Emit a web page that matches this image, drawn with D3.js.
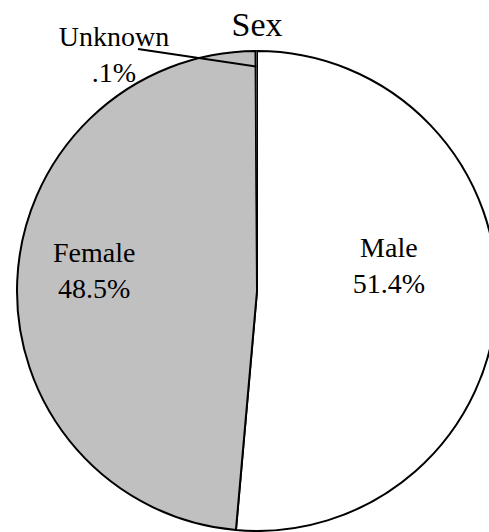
<!DOCTYPE html>
<html>
<head>
<meta charset="utf-8">
<script src="https://cdn.jsdelivr.net/npm/d3@7"></script>
<style>
  html, body { margin: 0; padding: 0; background: #fff; }
  svg { display: block; font-family: "Times New Roman", "Liberation Serif", serif; }
</style>
</head>
<body>
<svg id="chart" width="489" height="532"></svg>
<script>
// Share of records by sex (percent)
const categories = ["Male", "Female", "Unknown"];
const shares = [51.4, 48.5, 0.1];
const labelText = ["51.4%", "48.5%", ".1%"];
const sliceColors = ["#ffffff", "#c0c0c0", "#a0a0a0"];
const chartTitle = "Sex";

const cx = 257, cy = 291, radius = 240;

const svg = d3.select("#chart");

const pie = d3.pie().sort(null).value(d => d.value);
const arcs = pie(categories.map((c, i) => ({ name: c, value: shares[i], label: labelText[i], color: sliceColors[i] })));
const arc = d3.arc().innerRadius(0).outerRadius(radius);

const g = svg.append("g").attr("transform", `translate(${cx},${cy})`);

g.selectAll("path.slice")
  .data(arcs)
  .join("path")
  .attr("class", "slice")
  .attr("d", arc)
  .attr("fill", d => d.data.color)
  .attr("stroke", "#000")
  .attr("stroke-width", d => d.data.value < 1 ? 1 : 2)
  .attr("stroke-linejoin", "round");

// Inside labels sit along the slice's mid-angle; the tiny slice gets an
// outside label with a leader line.
const inside = {
  Male:   { r: 132, y: -25 },
  Female: { r: 163, y: -20 }
};
function midAngle(d) { return (d.startAngle + d.endAngle) / 2; }

arcs.forEach(d => {
  const name = d.data.name;
  let x, y;
  if (inside[name]) {
    x = inside[name].r * Math.sin(midAngle(d));
    y = inside[name].y;
  } else {
    x = 114 - cx;
    y = 55 - cy;
    const a = midAngle(d);
    const pr = radius * 0.935;
    g.append("line")
      .attr("x1", 138 - cx).attr("y1", 49 - cy)
      .attr("x2", pr * Math.sin(a)).attr("y2", -pr * Math.cos(a))
      .attr("stroke", "#000").attr("stroke-width", 2);
  }
  const t = g.append("text")
    .attr("text-anchor", "middle")
    .style("font-family", "'Times New Roman', 'Liberation Serif', serif")
    .style("font-size", "28px")
    .attr("fill", "#000");
  t.append("tspan").attr("x", x).attr("y", y - 9).text(name);
  t.append("tspan").attr("x", x).attr("y", y + 27).text(d.data.label);
});

svg.append("text")
  .attr("x", 257)
  .attr("y", 36)
  .attr("text-anchor", "middle")
  .style("font-family", "'Times New Roman', 'Liberation Serif', serif")
  .style("font-size", "34px")
  .attr("fill", "#000")
  .text(chartTitle);
</script>
</body>
</html>
